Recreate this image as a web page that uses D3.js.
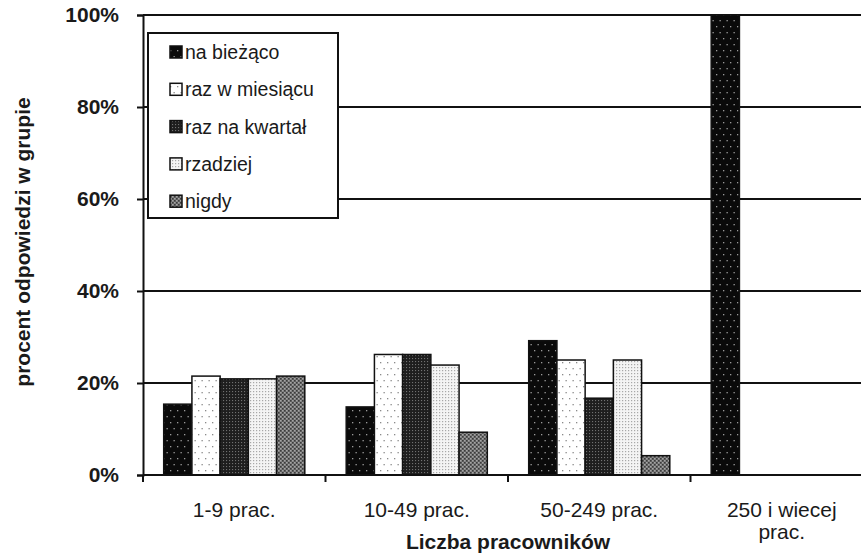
<!DOCTYPE html>
<html><head><meta charset="utf-8">
<script src="https://cdn.jsdelivr.net/npm/d3@7"></script>
<style>
body{margin:0;background:#fff;}
svg text{font-family:"Liberation Sans",Arial,sans-serif;fill:#1a1a1a;}
</style></head>
<body><svg id="c" width="861" height="553"></svg>
<script>
const categories = ["1-9 prac.", "10-49 prac.", "50-249 prac.", "250 i wiecej prac."];
const categoryLabelLines = [["1-9 prac."], ["10-49 prac."], ["50-249 prac."], ["250 i wiecej", "prac."]];
const seriesNames = ["na bieżąco", "raz w miesiącu", "raz na kwartał", "rzadziej", "nigdy"];
const naBiezaco   = [15.4, 14.8, 29.2, 100];
const razWMiesiacu = [21.5, 26.2, 25.0, 0];
const razNaKwartal = [20.9, 26.2, 16.7, 0];
const rzadziej    = [20.9, 23.9, 25.0, 0];
const nigdy       = [21.5, 9.3, 4.2, 0];
const yTicks = [0, 20, 40, 60, 80, 100];
const yTitle = "procent odpowiedzi w grupie";
const xTitle = "Liczba pracowników";

const seriesValues = [naBiezaco, razWMiesiacu, razNaKwartal, rzadziej, nigdy];

const svg = d3.select("#c");
const mLeft = 143, mRight = 873, mTop = 15, mBottom = 475;

// patterns
const defs = svg.append("defs");
function pat(id, w, h, bg, dots, dotColor, r) {
  const p = defs.append("pattern").attr("id", id).attr("patternUnits", "userSpaceOnUse")
    .attr("width", w).attr("height", h);
  p.append("rect").attr("width", w).attr("height", h).attr("fill", bg);
  dots.forEach(([x, yy, c]) => p.append("rect").attr("x", x).attr("y", yy)
    .attr("width", r).attr("height", r).attr("fill", c || dotColor));
}
pat("p0", 7, 12, "#0a0a0a", [[2, 2], [5.5, 8]], "#9a9a9a", 1.3);
pat("p1", 7, 12, "#ffffff", [[2, 2], [5.5, 8]], "#8a8a8a", 1.3);
pat("p2", 3, 3, "#1e1e1e", [[1, 1]], "#707070", 1.1);
pat("p3", 3, 3, "#f4f4f4", [[1, 1]], "#a8a8a8", 1.2);
pat("p4", 4, 4, "#707070", [[0, 0, "#a4a4a4"], [2, 2, "#a4a4a4"], [2, 0, "#3c3c3c"], [0, 2, "#3c3c3c"]], "#999", 1.5);
const fills = seriesNames.map((d, i) => `url(#p${i})`);

const x0 = d3.scaleBand().domain(categories).range([mLeft, mRight]).padding(0);
const gap = 20.7;
const x1 = d3.scaleBand().domain(seriesNames).range([gap, x0.bandwidth() - gap]).padding(0);
const y = d3.scaleLinear().domain([0, 100]).range([mBottom, mTop]);

// gridlines
svg.append("g").selectAll("line").data(yTicks.filter(t => t > 0)).join("line")
  .attr("x1", mLeft).attr("x2", mRight).attr("y1", d => y(d)).attr("y2", d => y(d))
  .attr("stroke", "#111").attr("stroke-width", 2);

// bars
const g = svg.append("g");
categories.forEach((c, ci) => {
  seriesNames.forEach((s, si) => {
    const v = seriesValues[si][ci];
    if (v <= 0) return;
    g.append("rect")
      .attr("x", x0(c) + x1(s)).attr("width", x1.bandwidth())
      .attr("y", y(v)).attr("height", y(0) - y(v))
      .attr("fill", fills[si]).attr("stroke", "#111").attr("stroke-width", 1.5);
  });
});

// y axis
const yAxis = svg.append("g").attr("transform", `translate(${mLeft},0)`)
  .call(d3.axisLeft(y).tickValues(yTicks).tickFormat(d => d + "%").tickSize(6).tickPadding(18));
yAxis.select(".domain").attr("stroke", "#111").attr("stroke-width", 2);
yAxis.selectAll(".tick line").attr("stroke", "#111").attr("stroke-width", 2);
yAxis.selectAll(".tick text").attr("font-size", 21).attr("font-weight", "bold")
  .attr("font-family", "Liberation Sans, Arial, sans-serif").attr("fill", "#1a1a1a");

// x axis line
svg.append("line").attr("x1", mLeft).attr("x2", mRight).attr("y1", mBottom).attr("y2", mBottom)
  .attr("stroke", "#111").attr("stroke-width", 2);
// boundary ticks
const boundaries = categories.map(c => x0(c));
svg.append("g").selectAll("line").data(boundaries).join("line")
  .attr("x1", d => d).attr("x2", d => d).attr("y1", mBottom).attr("y2", mBottom + 7)
  .attr("stroke", "#111").attr("stroke-width", 2);

// category labels
const lab = svg.append("g").selectAll("text").data(categories).join("text")
  .attr("x", d => x0(d) + x0.bandwidth() / 2).attr("y", 517)
  .attr("text-anchor", "middle").attr("font-size", 21);
lab.each(function (d, i) {
  const t = d3.select(this);
  categoryLabelLines[i].forEach((ln, li) => {
    t.append("tspan").attr("x", x0(d) + x0.bandwidth() / 2).attr("dy", li === 0 ? 0 : 22).text(ln);
  });
});

// axis titles
svg.append("text").attr("x", (mLeft + mRight) / 2).attr("y", 549).attr("text-anchor", "middle")
  .attr("font-size", 21).attr("font-weight", "bold").text(xTitle);
svg.append("text").attr("transform", `translate(30,${242}) rotate(-90)`).attr("text-anchor", "middle")
  .attr("font-size", 21).attr("font-weight", "bold").text(yTitle);

// legend
const lg = svg.append("g");
lg.append("rect").attr("x", 148).attr("y", 33).attr("width", 190).attr("height", 185)
  .attr("fill", "#fff").attr("stroke", "#111").attr("stroke-width", 2);
seriesNames.forEach((s, i) => {
  const cy = 52 + i * 37.3;
  lg.append("rect").attr("x", 170).attr("y", cy - 6).attr("width", 12).attr("height", 12)
    .attr("fill", fills[i]).attr("stroke", "#111").attr("stroke-width", 1.5);
  lg.append("text").attr("x", 185).attr("y", cy + 7).attr("font-size", 19.5).text(s);
});
</script></body></html>
